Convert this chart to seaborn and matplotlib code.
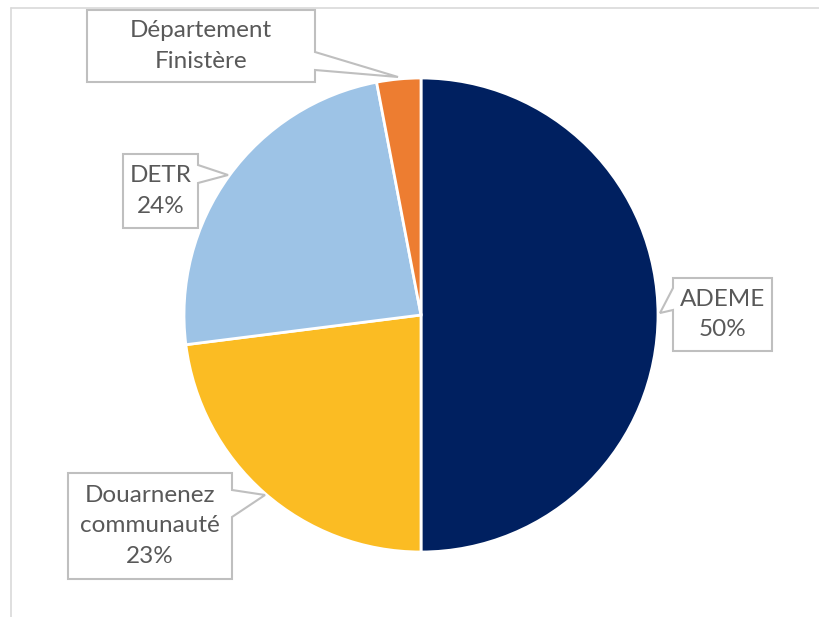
import matplotlib
matplotlib.use("Agg")
import matplotlib.pyplot as plt
from matplotlib.patches import Polygon
from matplotlib.lines import Line2D
import seaborn as sns

sns.set_theme(style="white")
plt.rcParams['font.family'] = ['Lato', 'DejaVu Sans']

categories = ["ADEME", "Douarnenez\ncommunauté", "DETR", "Département\nFinistère"]
values = [50, 23, 24, 3]
show_pct = [True, True, True, False]
colors = ["#002060", "#FBBC23", "#9DC3E6", "#ED7D31"]

W, H = 820, 617
fig = plt.figure(figsize=(W / 100, H / 100), dpi=100)

def fx(x):
    return x / W

def fy(y):
    return 1 - y / H

# pie axes: center (421,315), radius 237 px
cx, cy, r = 421, 315, 237
ax = fig.add_axes([fx(cx - r), fy(cy + r), 2 * r / W, 2 * r / H])
ax.pie(values, colors=colors, startangle=90, counterclock=False,
       wedgeprops=dict(edgecolor="white", linewidth=2))
ax.set_xlim(-1, 1)
ax.set_ylim(-1, 1)
ax.set_aspect("equal")
ax.axis("off")

# frame lines
fig.add_artist(Line2D([fx(11), fx(820)], [fy(8), fy(8)], color="#d9d9d9", lw=1.2))
fig.add_artist(Line2D([fx(11), fx(11)], [fy(8), fy(617)], color="#d9d9d9", lw=1.2))

# callout boxes: (x0, x1, y0, y1, side, pointer y a, pointer y b, tip x, tip y)
callouts = [
    (673, 772, 278, 351, "left", 288, 310, 660, 313),
    (68, 232, 473, 579, "right", 490, 517, 265, 495),
    (123, 198, 154, 228, "right", 165, 183, 228, 175),
    (87, 315, 10, 82, "right", 52, 70, 398, 77),
]

total = sum(values)
for cat, v, sp, (x0, x1, y0, y1, side, pa, pb, tx, ty) in zip(categories, values, show_pct, callouts):
    if side == "right":
        pts = [(x0, y0), (x1, y0), (x1, pa), (tx, ty), (x1, pb), (x1, y1), (x0, y1)]
    else:
        pts = [(x0, y0), (x1, y0), (x1, y1), (x0, y1), (x0, pb), (tx, ty), (x0, pa)]
    poly = Polygon([(fx(a), fy(b)) for a, b in pts], closed=True,
                   transform=fig.transFigure, facecolor="white",
                   edgecolor="#bfbfbf", lw=1.5, zorder=5)
    fig.add_artist(poly)
    label = cat
    if sp:
        label += "\n" + f"{round(100 * v / total)}%"
    fig.text(fx((x0 + x1) / 2), fy((y0 + y1) / 2), label, ha="center", va="center",
             fontsize=17.5, color="#595959", linespacing=1.58, zorder=6)

fig.savefig("out.png", dpi=100, facecolor="white")
